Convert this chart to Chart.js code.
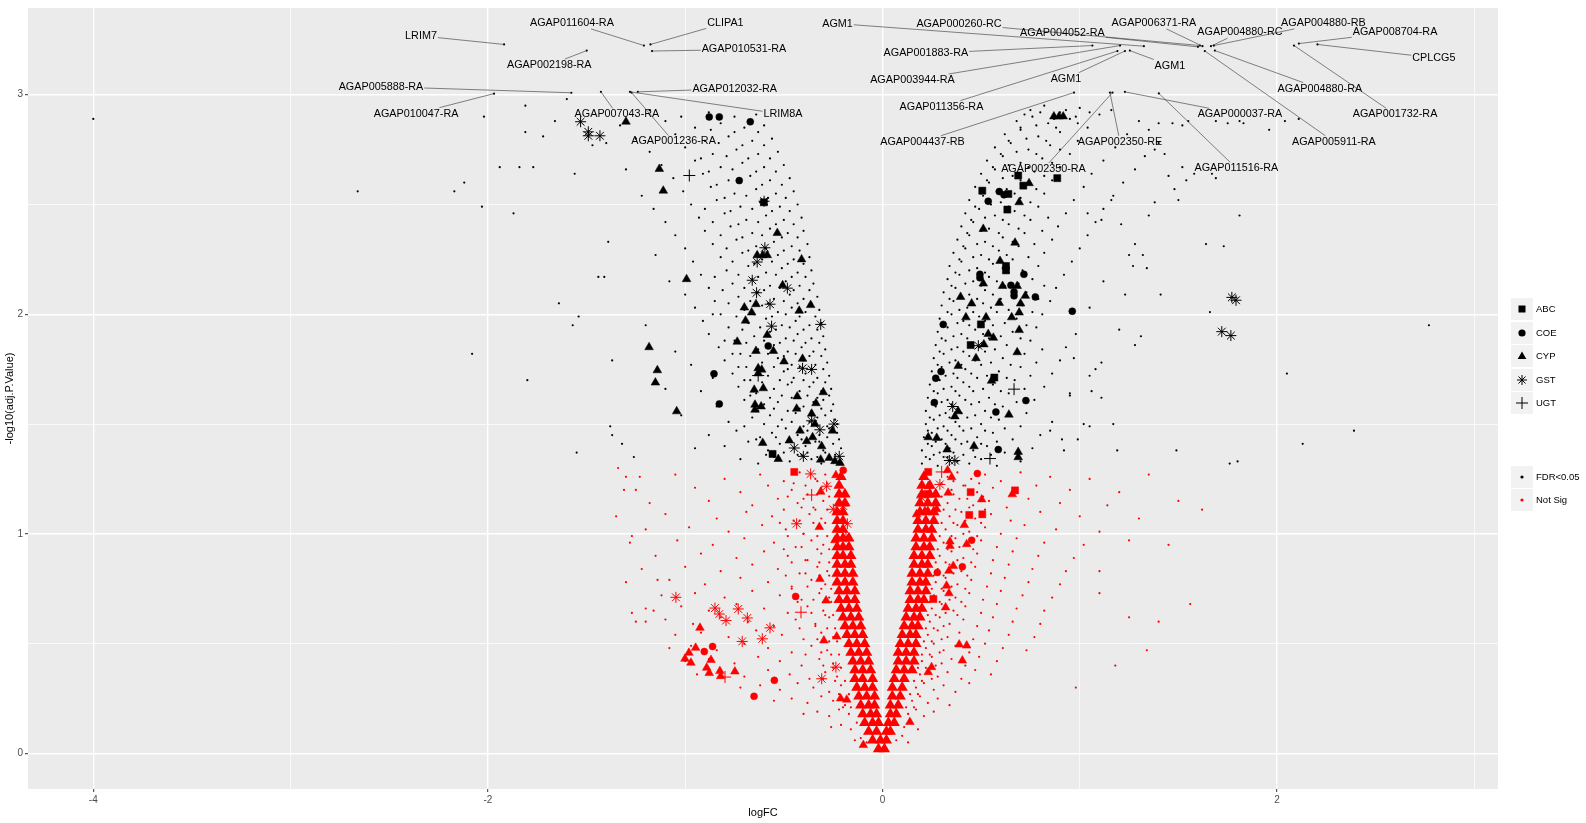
<!DOCTYPE html>
<html>
<head>
<meta charset="utf-8">
<script src="https://cdn.jsdelivr.net/npm/chart.js@4.4.0/dist/chart.umd.min.js"></script>
<style>
html, body { margin: 0; padding: 0; background: #fff; }
#wrap { position: relative; width: 1586px; height: 823px; font-family: "Liberation Sans", Arial, sans-serif; }
#legend { position: absolute; left: 1511px; top: 298px; }
.row { position: absolute; left: 0; height: 22px; }
.key { position: absolute; left: 0; top: 0; width: 22px; height: 22px; background: #F2F2F2; }
.key svg { display: block; }
.lab { position: absolute; left: 25px; top: 0; font-size: 9.5px; line-height: 22px; color: #000; white-space: nowrap; }
</style>
</head>
<body>
<div id="wrap">
  <canvas id="volcano" width="1586" height="823"></canvas>
  <div id="legend">
    <div class="row" style="top:0px"><div class="key"><svg width="22" height="22"><rect x="7.5" y="7.5" width="7" height="7" fill="#000"/></svg></div><div class="lab">ABC</div></div>
    <div class="row" style="top:23.5px"><div class="key"><svg width="22" height="22"><circle cx="11" cy="11" r="3.6" fill="#000"/></svg></div><div class="lab">COE</div></div>
    <div class="row" style="top:47px"><div class="key"><svg width="22" height="22"><polygon points="11,6.6 15.3,14.1 6.7,14.1" fill="#000"/></svg></div><div class="lab">CYP</div></div>
    <div class="row" style="top:70.5px"><div class="key"><svg width="22" height="22"><g stroke="#000" stroke-width="1"><line x1="6" y1="11" x2="16" y2="11"/><line x1="11" y1="6" x2="11" y2="16"/><line x1="7.5" y1="7.5" x2="14.5" y2="14.5"/><line x1="7.5" y1="14.5" x2="14.5" y2="7.5"/></g></svg></div><div class="lab">GST</div></div>
    <div class="row" style="top:94px"><div class="key"><svg width="22" height="22"><g stroke="#000" stroke-width="1"><line x1="5" y1="11" x2="17" y2="11"/><line x1="11" y1="5" x2="11" y2="17"/></g></svg></div><div class="lab">UGT</div></div>
    <div class="row" style="top:168px"><div class="key"><svg width="22" height="22"><circle cx="11" cy="11" r="1.6" fill="#000"/></svg></div><div class="lab">FDR&lt;0.05</div></div>
    <div class="row" style="top:191px"><div class="key"><svg width="22" height="22"><circle cx="11" cy="11" r="1.6" fill="#FF0000"/></svg></div><div class="lab">Not Sig</div></div>
  </div>
</div>
<script>
// genes passing FDR<0.05 (small black dots), [logFC, -log10(adj.P.Value)]
const sigDots = [
  [-4.00,2.89],[-2.66,2.56],[-2.17,2.56],[-2.12,2.60],[-2.03,2.49],[-2.02,2.90],[-1.94,2.67],[-1.87,2.46],
  [-1.84,2.67],[-1.77,2.67],[-1.81,2.95],[-1.66,2.88],[-1.64,2.05],[-1.57,1.95],[-1.54,1.99],[-2.08,1.82],
  [-1.80,1.70],[-1.37,1.79],[-1.38,1.49],[-1.37,1.45],[-1.55,1.37],[-1.26,1.35],[-1.32,1.41],[-1.44,2.17],
  [-1.41,2.17],[-1.39,2.33],[-1.56,2.64],[-1.47,2.77],[-1.72,2.81],[-1.81,2.83],[-1.60,2.98],
  [-0.22,1.33],[-0.27,1.35],[-0.31,1.32],[-0.36,1.34],[-0.41,1.36],[-0.47,1.33],[-0.55,1.35],[-0.63,1.32],[-0.72,1.34],
  [-0.21,1.39],[-0.25,1.41],[-0.30,1.38],[-0.34,1.42],[-0.39,1.40],[-0.45,1.39],[-0.52,1.41],[-0.58,1.38],[-0.68,1.42],[-0.80,1.40],[-0.95,1.39],
  [-0.23,1.46],[-0.27,1.48],[-0.32,1.45],[-0.38,1.47],[-0.43,1.45],[-0.49,1.48],[-0.56,1.46],[-0.62,1.44],[-0.74,1.47],[-0.88,1.45],
  [-0.24,1.52],[-0.29,1.54],[-0.33,1.53],[-0.37,1.51],[-0.44,1.55],[-0.51,1.52],[-0.57,1.54],[-0.66,1.53],[-0.78,1.51],[-1.02,1.54],
  [-0.25,1.59],[-0.30,1.61],[-0.35,1.60],[-0.40,1.58],[-0.46,1.62],[-0.53,1.60],[-0.60,1.59],[-0.70,1.61],[-0.84,1.58],
  [-0.26,1.66],[-0.31,1.65],[-0.37,1.67],[-0.42,1.65],[-0.48,1.68],[-0.55,1.66],[-0.64,1.64],[-0.73,1.67],[-0.92,1.65],[-1.10,1.66],
  [-0.27,1.72],[-0.33,1.71],[-0.39,1.73],[-0.45,1.71],[-0.50,1.74],[-0.58,1.72],[-0.67,1.70],[-0.76,1.73],[-0.86,1.71],
  [-0.28,1.78],[-0.34,1.77],[-0.40,1.79],[-0.46,1.77],[-0.53,1.80],[-0.61,1.78],[-0.69,1.76],[-0.80,1.79],[-0.97,1.77],
  [-0.29,1.84],[-0.35,1.83],[-0.41,1.85],[-0.48,1.83],[-0.55,1.86],[-0.63,1.84],[-0.72,1.82],[-0.83,1.85],[-1.05,1.83],
  [-0.30,1.90],[-0.36,1.89],[-0.43,1.91],[-0.49,1.89],[-0.57,1.92],[-0.65,1.90],[-0.75,1.88],[-0.88,1.91],
  [-0.31,1.96],[-0.37,1.95],[-0.44,1.97],[-0.51,1.95],[-0.59,1.98],[-0.68,1.96],[-0.78,1.94],[-0.91,1.97],[-1.20,1.95],
  [-0.32,2.02],[-0.39,2.01],[-0.46,2.03],[-0.53,2.01],[-0.61,2.04],[-0.70,2.02],[-0.82,2.00],[-0.95,2.03],
  [-0.33,2.08],[-0.40,2.07],[-0.47,2.09],[-0.55,2.07],[-0.63,2.10],[-0.73,2.08],[-0.85,2.06],[-1.00,2.09],
  [-0.35,2.14],[-0.42,2.13],[-0.49,2.15],[-0.57,2.13],[-0.66,2.16],[-0.76,2.14],[-0.88,2.12],[-1.08,2.15],
  [-0.36,2.20],[-0.43,2.19],[-0.51,2.21],[-0.59,2.19],[-0.68,2.22],[-0.79,2.20],[-0.92,2.18],
  [-0.37,2.26],[-0.45,2.25],[-0.53,2.27],[-0.61,2.25],[-0.71,2.28],[-0.82,2.26],[-0.96,2.24],[-1.15,2.27],
  [-0.38,2.32],[-0.46,2.31],[-0.55,2.33],[-0.64,2.31],[-0.74,2.34],[-0.86,2.32],[-1.00,2.30],
  [-0.40,2.38],[-0.48,2.37],[-0.57,2.39],[-0.66,2.37],[-0.77,2.40],[-0.90,2.38],[-1.05,2.36],
  [-0.41,2.44],[-0.50,2.43],[-0.59,2.45],[-0.69,2.43],[-0.80,2.46],[-0.93,2.44],[-1.10,2.42],
  [-0.43,2.50],[-0.52,2.49],[-0.62,2.51],[-0.72,2.49],[-0.84,2.52],[-0.97,2.50],[-1.16,2.48],
  [-0.45,2.56],[-0.54,2.55],[-0.64,2.57],[-0.75,2.55],[-0.87,2.58],[-1.01,2.56],[-1.22,2.54],
  [-0.47,2.62],[-0.57,2.61],[-0.67,2.63],[-0.78,2.61],[-0.91,2.64],[-1.06,2.62],
  [-0.50,2.68],[-0.60,2.67],[-0.71,2.69],[-0.82,2.67],[-0.95,2.70],[-1.12,2.68],[-1.30,2.66],
  [-0.53,2.74],[-0.63,2.73],[-0.74,2.75],[-0.86,2.73],[-1.00,2.76],[-1.18,2.74],
  [-0.56,2.80],[-0.66,2.79],[-0.78,2.81],[-0.90,2.79],[-1.05,2.82],[-1.25,2.80],[-1.40,2.78],
  [-0.60,2.86],[-0.70,2.85],[-0.82,2.87],[-0.95,2.85],[-1.10,2.88],[-1.33,2.86],
  [-0.64,2.91],[-0.75,2.90],[-0.88,2.92],[-1.02,2.90],[-1.18,2.93],
  [-0.24,1.36],[-0.29,1.37],[-0.33,1.35],[-0.38,1.37],[-0.43,1.36],[-0.50,1.37],[-0.59,1.36],
  [-0.22,1.43],[-0.28,1.44],[-0.32,1.42],[-0.36,1.44],[-0.41,1.43],[-0.47,1.42],[-0.54,1.44],[-0.64,1.43],
  [-0.23,1.50],[-0.28,1.49],[-0.35,1.50],[-0.40,1.49],[-0.46,1.51],[-0.53,1.49],[-0.60,1.50],[-0.70,1.49],
  [-0.26,1.56],[-0.31,1.57],[-0.36,1.56],[-0.42,1.57],[-0.48,1.56],[-0.55,1.57],[-0.63,1.56],
  [-0.27,1.63],[-0.33,1.62],[-0.38,1.63],[-0.44,1.62],[-0.51,1.63],[-0.57,1.62],[-0.67,1.63],
  [-0.29,1.69],[-0.35,1.69],[-0.40,1.70],[-0.46,1.69],[-0.52,1.70],[-0.61,1.69],[-0.70,1.70],
  [-0.30,1.75],[-0.36,1.75],[-0.42,1.76],[-0.48,1.75],[-0.55,1.76],[-0.64,1.75],[-0.73,1.76],
  [-0.31,1.81],[-0.37,1.81],[-0.44,1.82],[-0.50,1.81],[-0.58,1.82],[-0.67,1.81],[-0.76,1.82],
  [-0.32,1.87],[-0.39,1.87],[-0.45,1.88],[-0.52,1.87],[-0.60,1.88],[-0.69,1.87],[-0.80,1.88],
  [-0.33,1.93],[-0.40,1.93],[-0.47,1.94],[-0.54,1.93],[-0.62,1.94],[-0.71,1.93],
  [-0.34,1.99],[-0.42,1.99],[-0.49,2.00],[-0.56,1.99],[-0.65,2.00],[-0.74,1.99],[-0.86,2.00],
  [-0.36,2.05],[-0.43,2.05],[-0.50,2.06],[-0.58,2.05],[-0.67,2.06],[-0.78,2.05],
  [-0.37,2.11],[-0.45,2.11],[-0.52,2.12],[-0.60,2.11],[-0.70,2.12],[-0.81,2.11],
  [-0.39,2.17],[-0.46,2.17],[-0.54,2.18],[-0.63,2.17],[-0.73,2.18],[-0.85,2.17],
  [-0.40,2.23],[-0.48,2.23],[-0.56,2.24],[-0.65,2.23],[-0.76,2.24],
  [-0.42,2.29],[-0.50,2.29],[-0.59,2.30],[-0.68,2.29],[-0.79,2.30],
  [-0.43,2.35],[-0.51,2.35],[-0.61,2.36],[-0.71,2.35],[-0.82,2.36],
  [-0.45,2.41],[-0.54,2.41],[-0.63,2.42],[-0.73,2.41],[-0.86,2.42],
  [-0.47,2.47],[-0.56,2.47],[-0.66,2.48],[-0.77,2.47],[-0.90,2.48],
  [-0.49,2.53],[-0.58,2.53],[-0.69,2.54],[-0.80,2.53],
  [-0.51,2.59],[-0.61,2.59],[-0.72,2.60],[-0.84,2.59],
  [-0.54,2.65],[-0.64,2.65],[-0.76,2.66],[-0.88,2.65],
  [-0.57,2.71],[-0.68,2.71],[-0.79,2.72],[-0.92,2.71],
  [-0.60,2.77],[-0.71,2.77],[-0.83,2.78],
  [-0.63,2.83],[-0.75,2.83],[-0.87,2.84],
  [0.20,1.32],[0.24,1.34],[0.28,1.31],[0.33,1.35],[0.38,1.33],[0.44,1.32],[0.50,1.34],[0.58,1.31],[0.70,1.33],
  [0.20,1.38],[0.25,1.40],[0.29,1.37],[0.34,1.39],[0.40,1.41],[0.46,1.38],[0.53,1.40],[0.62,1.37],[0.76,1.39],[0.92,1.38],
  [0.21,1.44],[0.25,1.46],[0.30,1.43],[0.35,1.45],[0.41,1.47],[0.48,1.44],[0.56,1.46],[0.66,1.43],[0.80,1.45],
  [0.22,1.50],[0.26,1.52],[0.31,1.49],[0.37,1.51],[0.43,1.53],[0.50,1.50],[0.59,1.52],[0.70,1.49],[0.86,1.51],[1.02,1.50],
  [0.22,1.56],[0.27,1.58],[0.32,1.55],[0.38,1.57],[0.45,1.59],[0.52,1.56],[0.61,1.58],[0.73,1.55],
  [0.23,1.62],[0.28,1.64],[0.33,1.61],[0.39,1.63],[0.46,1.65],[0.54,1.62],[0.64,1.64],[0.77,1.61],[0.95,1.63],
  [0.24,1.68],[0.29,1.70],[0.35,1.67],[0.41,1.69],[0.48,1.71],[0.56,1.68],[0.67,1.70],[0.82,1.67],
  [0.25,1.74],[0.30,1.76],[0.36,1.73],[0.42,1.75],[0.50,1.77],[0.59,1.74],[0.70,1.76],[0.86,1.73],[1.08,1.75],
  [0.26,1.80],[0.31,1.82],[0.37,1.79],[0.44,1.81],[0.52,1.83],[0.61,1.80],[0.72,1.82],[0.90,1.79],
  [0.27,1.86],[0.32,1.88],[0.38,1.85],[0.45,1.87],[0.54,1.89],[0.63,1.86],[0.75,1.88],[0.93,1.85],
  [0.28,1.92],[0.33,1.94],[0.40,1.91],[0.47,1.93],[0.56,1.95],[0.66,1.92],[0.78,1.94],[0.98,1.91],[1.20,1.93],
  [0.29,1.98],[0.35,2.00],[0.41,1.97],[0.49,1.99],[0.58,2.01],[0.68,1.98],[0.81,2.00],
  [0.30,2.04],[0.36,2.06],[0.43,2.03],[0.51,2.05],[0.60,2.07],[0.71,2.04],[0.85,2.06],[1.05,2.03],
  [0.31,2.10],[0.37,2.12],[0.44,2.09],[0.52,2.11],[0.62,2.13],[0.73,2.10],[0.88,2.12],
  [0.33,2.16],[0.39,2.18],[0.46,2.15],[0.54,2.17],[0.64,2.19],[0.76,2.16],[0.92,2.18],[1.12,2.15],
  [0.34,2.22],[0.40,2.24],[0.48,2.21],[0.56,2.23],[0.66,2.25],[0.79,2.22],[0.96,2.24],
  [0.36,2.28],[0.42,2.30],[0.50,2.27],[0.59,2.29],[0.69,2.31],[0.82,2.28],[1.00,2.30],[1.25,2.27],
  [0.38,2.34],[0.44,2.36],[0.52,2.33],[0.61,2.35],[0.72,2.37],[0.86,2.34],[1.04,2.36],
  [0.40,2.40],[0.46,2.42],[0.54,2.39],[0.64,2.41],[0.75,2.43],[0.89,2.40],[1.08,2.42],
  [0.42,2.46],[0.49,2.48],[0.57,2.45],[0.67,2.47],[0.79,2.49],[0.93,2.46],[1.12,2.48],[1.35,2.45],
  [0.44,2.52],[0.51,2.54],[0.60,2.51],[0.70,2.53],[0.82,2.55],[0.97,2.52],[1.17,2.54],
  [0.47,2.58],[0.54,2.60],[0.63,2.57],[0.73,2.59],[0.86,2.61],[1.02,2.58],[1.22,2.60],
  [0.50,2.64],[0.57,2.66],[0.66,2.63],[0.77,2.65],[0.90,2.67],[1.06,2.64],[1.28,2.66],[1.45,2.63],
  [0.53,2.70],[0.61,2.72],[0.70,2.69],[0.81,2.71],[0.95,2.73],[1.12,2.70],[1.33,2.72],
  [0.57,2.76],[0.65,2.78],[0.74,2.75],[0.85,2.77],[0.99,2.79],[1.18,2.76],[1.40,2.78],
  [0.62,2.82],[0.70,2.84],[0.79,2.81],[0.90,2.83],[1.04,2.85],[1.24,2.82],
  [0.68,2.88],[0.76,2.90],[0.84,2.87],[0.95,2.89],[1.10,2.91],[1.30,2.88],[1.52,2.86],
  [0.75,2.93],[0.82,2.95],[0.90,2.92],[1.00,2.94],[1.16,2.93],
  [0.22,1.35],[0.26,1.36],[0.31,1.35],[0.36,1.37],[0.41,1.36],[0.47,1.35],[0.55,1.36],
  [0.23,1.41],[0.27,1.42],[0.32,1.41],[0.37,1.43],[0.43,1.42],[0.50,1.41],[0.58,1.42],
  [0.23,1.47],[0.28,1.48],[0.33,1.47],[0.39,1.49],[0.45,1.48],[0.52,1.47],[0.62,1.48],
  [0.24,1.53],[0.29,1.54],[0.34,1.53],[0.40,1.55],[0.47,1.54],[0.55,1.53],[0.65,1.54],
  [0.25,1.59],[0.30,1.60],[0.35,1.59],[0.42,1.61],[0.49,1.60],[0.57,1.59],[0.68,1.60],
  [0.26,1.65],[0.31,1.66],[0.37,1.65],[0.44,1.67],[0.51,1.66],[0.60,1.65],[0.72,1.66],
  [0.27,1.71],[0.32,1.72],[0.38,1.71],[0.45,1.73],[0.53,1.72],[0.63,1.71],[0.75,1.72],
  [0.28,1.77],[0.34,1.78],[0.40,1.77],[0.47,1.79],[0.55,1.78],[0.65,1.77],[0.78,1.78],
  [0.29,1.83],[0.35,1.84],[0.41,1.83],[0.49,1.85],[0.57,1.84],[0.68,1.83],[0.81,1.84],
  [0.30,1.89],[0.36,1.90],[0.43,1.89],[0.51,1.91],[0.60,1.90],[0.70,1.89],
  [0.31,1.95],[0.38,1.96],[0.44,1.95],[0.52,1.97],[0.62,1.96],[0.73,1.95],
  [0.33,2.01],[0.39,2.02],[0.46,2.01],[0.55,2.03],[0.64,2.02],[0.76,2.01],
  [0.34,2.07],[0.40,2.08],[0.48,2.07],[0.56,2.09],[0.66,2.08],[0.79,2.07],
  [0.35,2.13],[0.42,2.14],[0.50,2.13],[0.58,2.15],[0.69,2.14],[0.82,2.13],
  [0.37,2.19],[0.44,2.20],[0.52,2.19],[0.61,2.21],[0.71,2.20],
  [0.39,2.25],[0.46,2.26],[0.54,2.25],[0.63,2.27],[0.74,2.26],
  [0.41,2.31],[0.48,2.32],[0.56,2.31],[0.66,2.33],[0.77,2.32],
  [0.43,2.37],[0.50,2.38],[0.59,2.37],[0.69,2.39],[0.81,2.38],
  [0.45,2.43],[0.52,2.44],[0.61,2.43],[0.72,2.45],[0.84,2.44],
  [0.47,2.49],[0.55,2.50],[0.64,2.49],[0.75,2.51],
  [0.50,2.55],[0.58,2.56],[0.67,2.55],[0.78,2.57],
  [0.53,2.61],[0.61,2.62],[0.70,2.61],[0.82,2.63],
  [0.56,2.67],[0.64,2.68],[0.74,2.67],[0.86,2.69],
  [0.60,2.73],[0.68,2.74],[0.78,2.73],[0.90,2.75],
  [0.64,2.79],[0.73,2.80],[0.83,2.79],
  [0.70,2.85],[0.78,2.86],[0.88,2.85],[0.99,2.87],
  [0.72,2.91],[0.80,2.92],[0.87,2.89],[0.93,2.93],[0.98,2.90],[1.05,2.92],
  [2.77,1.95],[2.13,1.41],[2.39,1.47],[2.05,1.73],[1.80,1.33],[1.76,1.32],[1.66,2.01],[1.64,2.32],
  [1.73,2.31],[1.81,2.45],[1.83,2.87],[1.96,2.84],[2.04,2.88],[2.11,2.89],[1.69,2.62],[1.52,2.67],
  [1.58,2.64],[1.48,2.57],[1.50,2.52],[1.38,2.51],[1.27,2.22],[1.32,2.27],[1.34,2.21],[1.21,2.41],
  [1.16,2.52],[1.04,2.46],[1.11,2.43],[1.41,2.09],[1.28,2.32],[1.23,2.09],[1.11,1.78],[1.11,1.62],
  [1.17,1.50],[1.05,1.49],[1.31,1.90],[1.28,1.86],[1.49,1.38],[1.19,1.38],[1.05,1.72],[0.97,1.80],
  [0.95,1.64],[1.06,1.65],[0.85,1.47],[0.91,1.43],[0.99,1.43],[1.35,2.84],[1.40,2.87],[1.47,2.87],
  [1.55,2.88],[1.69,2.88],[1.75,2.87],[1.81,2.88],[1.38,2.75],[1.43,2.73],[1.54,2.61],[1.67,2.64]
];

// genes not passing FDR (small red dots)
const notSigDots = [
  [-1.31,1.20],[-1.27,0.99],[-1.27,0.64],[-1.20,0.60],[-1.14,0.79],[-1.16,0.65],[-1.34,1.30],[-1.23,1.26],
  [-1.30,1.26],[-1.05,1.27],[-0.80,1.25],[-0.62,1.27],[-0.50,1.24],[-0.42,1.28],[-0.34,1.25],[-0.29,1.27],
  [-1.25,1.20],[-0.95,1.21],[-0.72,1.19],[-0.58,1.22],[-0.46,1.20],[-0.38,1.18],[-0.31,1.21],
  [-1.18,1.14],[-0.88,1.15],[-0.66,1.13],[-0.53,1.16],[-0.43,1.14],[-0.35,1.12],[-0.30,1.15],
  [-1.35,1.08],[-1.10,1.09],[-0.84,1.07],[-0.69,1.10],[-0.56,1.08],[-0.45,1.06],[-0.37,1.09],[-0.31,1.07],
  [-1.20,1.02],[-0.98,1.03],[-0.78,1.01],[-0.61,1.04],[-0.49,1.02],[-0.40,1.00],[-0.32,1.03],
  [-1.28,0.96],[-1.04,0.97],[-0.86,0.95],[-0.70,0.98],[-0.55,0.96],[-0.44,0.94],[-0.36,0.97],[-0.30,0.95],
  [-1.15,0.90],[-0.92,0.91],[-0.74,0.89],[-0.60,0.92],[-0.48,0.90],[-0.39,0.88],[-0.31,0.91],
  [-1.22,0.84],[-1.00,0.85],[-0.82,0.83],[-0.66,0.86],[-0.53,0.84],[-0.42,0.82],[-0.33,0.85],[-0.28,0.83],
  [-1.30,0.78],[-1.08,0.79],[-0.90,0.77],[-0.72,0.80],[-0.58,0.78],[-0.46,0.76],[-0.36,0.79],[-0.29,0.77],
  [-1.12,0.72],[-0.95,0.73],[-0.80,0.71],[-0.66,0.74],[-0.52,0.72],[-0.41,0.70],[-0.32,0.73],[-0.27,0.71],
  [-1.20,0.66],[-1.02,0.67],[-0.88,0.65],[-0.74,0.68],[-0.60,0.66],[-0.48,0.64],[-0.38,0.67],[-0.30,0.65],
  [-1.25,0.60],[-1.10,0.61],[-0.96,0.59],[-0.82,0.62],[-0.68,0.60],[-0.55,0.58],[-0.44,0.61],[-0.34,0.59],[-0.27,0.62],
  [-1.05,0.54],[-0.92,0.55],[-0.78,0.53],[-0.64,0.56],[-0.51,0.54],[-0.40,0.52],[-0.31,0.55],[-0.25,0.53],
  [-1.08,0.48],[-0.97,0.49],[-0.84,0.47],[-0.70,0.50],[-0.58,0.48],[-0.46,0.46],[-0.36,0.49],[-0.28,0.47],
  [-1.00,0.42],[-0.88,0.43],[-0.75,0.41],[-0.63,0.44],[-0.52,0.42],[-0.41,0.40],[-0.32,0.43],[-0.25,0.41],
  [-0.94,0.36],[-0.82,0.37],[-0.70,0.35],[-0.58,0.38],[-0.47,0.36],[-0.37,0.34],[-0.29,0.37],[-0.23,0.35],
  [-0.72,0.30],[-0.62,0.31],[-0.52,0.29],[-0.43,0.32],[-0.35,0.30],[-0.27,0.28],[-0.21,0.31],
  [-0.55,0.24],[-0.46,0.25],[-0.38,0.23],[-0.31,0.26],[-0.25,0.24],[-0.19,0.22],
  [-0.40,0.18],[-0.33,0.19],[-0.27,0.17],[-0.22,0.20],[-0.17,0.18],
  [-0.26,0.12],[-0.21,0.13],[-0.16,0.11],[-0.13,0.14],[-0.14,0.06],[-0.11,0.07],[-0.08,0.05],
  [-0.28,1.23],[-0.33,1.24],[-0.39,1.22],[-0.45,1.23],[-0.27,1.17],[-0.33,1.18],[-0.40,1.16],[-0.48,1.17],
  [-0.28,1.11],[-0.34,1.11],[-0.41,1.12],[-0.50,1.11],[-0.29,1.05],[-0.35,1.05],[-0.42,1.06],[-0.52,1.05],
  [-0.28,0.99],[-0.33,0.99],[-0.40,1.00],[-0.48,0.99],[-0.27,0.93],[-0.33,0.93],[-0.41,0.94],[-0.50,0.93],
  [-0.27,0.87],[-0.32,0.87],[-0.38,0.88],[-0.46,0.87],[-0.27,0.81],[-0.32,0.81],[-0.39,0.82],[-0.49,0.81],
  [-0.26,0.75],[-0.31,0.75],[-0.38,0.76],[-0.46,0.75],[-0.26,0.69],[-0.30,0.69],[-0.35,0.70],[-0.43,0.69],
  [-0.25,0.63],[-0.29,0.63],[-0.36,0.64],[-0.24,0.57],[-0.28,0.57],[-0.34,0.58],[-0.42,0.57],
  [-0.23,0.51],[-0.27,0.51],[-0.33,0.52],[-0.22,0.45],[-0.26,0.45],[-0.31,0.46],[-0.39,0.45],
  [-0.21,0.39],[-0.25,0.39],[-0.30,0.40],[-0.19,0.33],[-0.24,0.33],[-0.30,0.34],[-0.17,0.27],[-0.22,0.27],
  [-0.16,0.21],[-0.20,0.21],
  [0.33,1.26],[0.38,1.28],[0.45,1.25],[0.52,1.27],[0.60,1.24],[0.70,1.28],[0.85,1.26],[1.05,1.25],[1.35,1.27],
  [0.35,1.20],[0.41,1.22],[0.48,1.19],[0.56,1.21],[0.66,1.18],[0.78,1.22],[0.95,1.20],[1.20,1.19],
  [0.33,1.14],[0.39,1.16],[0.46,1.13],[0.54,1.15],[0.63,1.12],[0.74,1.16],[0.90,1.14],[1.14,1.13],[1.50,1.15],
  [0.34,1.08],[0.40,1.10],[0.47,1.07],[0.55,1.09],[0.65,1.06],[0.80,1.10],[1.00,1.08],[1.30,1.07],[1.62,1.11],
  [0.32,1.02],[0.38,1.04],[0.44,1.01],[0.52,1.03],[0.60,1.00],[0.72,1.04],[0.88,1.02],[1.10,1.01],
  [0.31,0.96],[0.37,0.98],[0.43,0.95],[0.50,0.97],[0.58,0.94],[0.68,0.98],[0.82,0.96],[1.02,0.95],[1.25,0.97],[1.45,0.95],
  [0.29,0.90],[0.35,0.92],[0.41,0.89],[0.48,0.91],[0.56,0.88],[0.66,0.92],[0.79,0.90],[0.97,0.89],
  [0.28,0.84],[0.34,0.86],[0.40,0.83],[0.47,0.85],[0.55,0.82],[0.64,0.86],[0.76,0.84],[0.93,0.83],[1.10,0.83],
  [0.27,0.78],[0.32,0.80],[0.38,0.77],[0.45,0.79],[0.53,0.76],[0.62,0.80],[0.74,0.78],[0.90,0.77],
  [0.26,0.72],[0.31,0.74],[0.37,0.71],[0.44,0.73],[0.51,0.70],[0.60,0.74],[0.71,0.72],[0.86,0.71],[1.10,0.73],
  [0.25,0.66],[0.30,0.68],[0.36,0.65],[0.42,0.67],[0.50,0.64],[0.58,0.68],[0.68,0.66],[0.82,0.65],[1.56,0.68],
  [0.24,0.60],[0.29,0.62],[0.34,0.59],[0.41,0.61],[0.48,0.58],[0.56,0.62],[0.66,0.60],[0.80,0.59],[1.40,0.60],[1.25,0.62],
  [0.23,0.54],[0.28,0.56],[0.33,0.53],[0.39,0.55],[0.46,0.52],[0.54,0.56],[0.64,0.54],[0.77,0.53],
  [0.22,0.48],[0.26,0.50],[0.31,0.47],[0.37,0.49],[0.44,0.46],[0.52,0.50],[0.61,0.48],[0.73,0.47],[1.34,0.47],
  [0.20,0.42],[0.25,0.44],[0.30,0.41],[0.35,0.43],[0.42,0.40],[0.49,0.44],[0.58,0.42],[1.18,0.40],
  [0.19,0.36],[0.23,0.38],[0.28,0.35],[0.33,0.37],[0.40,0.34],[0.47,0.38],[0.55,0.36],
  [0.17,0.30],[0.21,0.32],[0.26,0.29],[0.31,0.31],[0.37,0.28],[0.44,0.32],[0.98,0.30],
  [0.15,0.24],[0.19,0.26],[0.23,0.23],[0.28,0.25],[0.34,0.22],
  [0.13,0.18],[0.17,0.20],[0.21,0.17],[0.26,0.19],[0.11,0.12],[0.14,0.14],[0.18,0.11],
  [0.07,0.06],[0.10,0.08],[0.13,0.05],
  [0.30,1.23],[0.36,1.24],[0.42,1.22],[0.49,1.23],[0.30,1.17],[0.36,1.18],[0.43,1.16],[0.51,1.17],
  [0.31,1.11],[0.37,1.11],[0.44,1.12],[0.52,1.11],[0.30,1.05],[0.36,1.05],[0.42,1.06],[0.50,1.05],
  [0.29,0.99],[0.35,0.99],[0.41,1.00],[0.48,0.99],[0.28,0.93],[0.33,0.93],[0.39,0.94],[0.46,0.93],
  [0.27,0.87],[0.32,0.87],[0.38,0.88],[0.45,0.87],[0.26,0.81],[0.31,0.81],[0.36,0.82],[0.43,0.81],
  [0.25,0.75],[0.30,0.75],[0.35,0.76],[0.42,0.75],[0.24,0.69],[0.29,0.69],[0.34,0.70],[0.40,0.69],
  [0.23,0.63],[0.27,0.63],[0.32,0.64],[0.38,0.63],[0.22,0.57],[0.26,0.57],[0.31,0.58],
  [0.21,0.51],[0.25,0.51],[0.30,0.52],[0.20,0.45],[0.24,0.45],[0.29,0.46],
  [0.18,0.39],[0.22,0.39],[0.27,0.40],[0.16,0.33],[0.20,0.33],[0.25,0.34],
  [0.14,0.27],[0.18,0.27],[0.12,0.21],[0.16,0.21]
];

// the packed mass of not-significant genes close to logFC 0
const notSigCore = [
  [-0.02,0.02],[0.01,0.02],
  [-0.05,0.06],[-0.01,0.06],[0.02,0.06],
  [-0.07,0.10],[-0.03,0.10],[0.02,0.10],[0.04,0.10],
  [-0.09,0.14],[-0.05,0.14],[-0.02,0.14],[0.03,0.14],[0.06,0.14],
  [-0.10,0.18],[-0.06,0.18],[-0.03,0.18],[0.04,0.18],[0.07,0.18],
  [-0.11,0.22],[-0.07,0.22],[-0.04,0.22],[0.04,0.22],[0.08,0.22],
  [-0.12,0.26],[-0.08,0.26],[-0.04,0.26],[0.05,0.26],[0.09,0.26],
  [-0.13,0.30],[-0.09,0.30],[-0.05,0.30],[0.05,0.30],[0.10,0.30],
  [-0.14,0.34],[-0.10,0.34],[-0.05,0.34],[0.06,0.34],[0.11,0.34],
  [-0.14,0.38],[-0.10,0.38],[-0.06,0.38],[0.07,0.38],[0.11,0.38],[0.15,0.38],
  [-0.15,0.42],[-0.11,0.42],[-0.07,0.42],[0.08,0.42],[0.12,0.42],[0.16,0.42],
  [-0.16,0.46],[-0.12,0.46],[-0.08,0.46],[0.08,0.46],[0.12,0.46],[0.16,0.46],
  [-0.17,0.50],[-0.13,0.50],[-0.09,0.50],[0.09,0.50],[0.13,0.50],[0.17,0.50],
  [-0.18,0.54],[-0.14,0.54],[-0.10,0.54],[0.10,0.54],[0.14,0.54],[0.17,0.54],
  [-0.19,0.58],[-0.15,0.58],[-0.11,0.58],[0.11,0.58],[0.15,0.58],[0.18,0.58],
  [-0.20,0.62],[-0.16,0.62],[-0.12,0.62],[0.12,0.62],[0.16,0.62],[0.19,0.62],
  [-0.21,0.66],[-0.17,0.66],[-0.13,0.66],[0.13,0.66],[0.17,0.66],[0.20,0.66],
  [-0.22,0.70],[-0.18,0.70],[-0.14,0.70],[0.14,0.70],[0.18,0.70],[0.21,0.70],
  [-0.22,0.74],[-0.18,0.74],[-0.14,0.74],[0.14,0.74],[0.18,0.74],[0.22,0.74],
  [-0.23,0.78],[-0.19,0.78],[-0.15,0.78],[0.15,0.78],[0.19,0.78],[0.22,0.78],
  [-0.23,0.82],[-0.19,0.82],[-0.15,0.82],[0.15,0.82],[0.19,0.82],[0.23,0.82],
  [-0.23,0.86],[-0.19,0.86],[-0.16,0.86],[0.16,0.86],[0.20,0.86],[0.23,0.86],
  [-0.23,0.90],[-0.20,0.90],[-0.16,0.90],[0.16,0.90],[0.20,0.90],[0.24,0.90],
  [-0.23,0.94],[-0.20,0.94],[-0.17,0.94],[0.17,0.94],[0.21,0.94],[0.24,0.94],
  [-0.23,0.98],[-0.20,0.98],[-0.17,0.98],[0.17,0.98],[0.21,0.98],[0.25,0.98],
  [-0.23,1.02],[-0.20,1.02],[0.18,1.02],[0.22,1.02],[0.25,1.02],
  [-0.23,1.06],[-0.20,1.06],[0.18,1.06],[0.22,1.06],[0.26,1.06],
  [-0.23,1.10],[-0.20,1.10],[0.19,1.10],[0.23,1.10],[0.26,1.10],
  [-0.22,1.14],[-0.19,1.14],[0.19,1.14],[0.23,1.14],[0.27,1.14],
  [-0.22,1.18],[-0.19,1.18],[0.20,1.18],[0.24,1.18],[0.27,1.18],
  [-0.22,1.22],[0.20,1.22],[0.24,1.22],
  [-0.21,1.26],[0.21,1.26]
];

// gene families
const abcGenes = [
  [-0.601,2.510],[-0.557,1.364],[0.688,2.632],[0.886,2.620],[0.714,2.586],[0.506,2.563],[0.638,2.548],
  [0.633,2.477],[0.626,2.220],[0.626,2.200],[0.499,1.954],[0.447,1.860],[0.567,1.712],
  [-0.447,1.282],[0.232,1.282],[0.447,1.190],[0.672,1.198],[0.440,1.086],[0.506,1.089],[0.229,1.182],[0.258,0.703]
];
const coeGenes = [
  [-0.878,2.899],[-0.827,2.899],[-0.670,2.877],[-0.726,2.609],[-0.579,1.856],[-0.854,1.729],[-0.827,1.592],
  [0.592,2.559],[0.616,2.544],[0.536,2.515],[0.717,2.182],[0.494,2.182],[0.494,2.166],[0.651,2.132],
  [0.667,2.102],[0.667,2.084],[0.775,2.079],[0.962,2.014],[0.308,1.954],[0.297,1.739],[0.270,1.709],
  [0.727,1.607],[0.263,1.598],[0.575,1.555],[0.587,1.384],
  [-0.199,1.290],[-0.440,0.715],[-0.861,0.487],[-0.903,0.464],[-0.548,0.333],[-0.651,0.260],
  [0.481,1.275],[0.452,0.971],[0.405,0.850],[0.278,0.824]
];
const cypGenes = [
  [-1.300,2.877],[-1.131,2.662],[-1.111,2.563],[-0.533,2.370],[-0.635,2.269],[-0.607,2.269],[-0.584,2.269],
  [-0.410,2.250],[-0.993,2.160],[-0.506,2.132],[-0.641,2.046],[-0.700,2.031],[-0.663,2.008],[-0.364,2.042],
  [-0.422,2.016],[-0.694,1.971],[-0.584,1.906],[-0.736,1.875],[-0.553,1.833],[-0.641,1.833],[-1.183,1.850],
  [-0.405,1.797],[-0.499,1.785],[-0.630,1.754],[-0.612,1.748],[-0.630,1.731],[-1.141,1.745],[-1.151,1.689],
  [-0.650,1.656],[-0.604,1.663],[-0.300,1.645],[-0.432,1.626],[-0.646,1.588],[-0.615,1.580],[-0.646,1.565],
  [-0.337,1.595],[-0.435,1.570],[-0.359,1.547],[-1.043,1.558],[-0.342,1.500],[-0.418,1.470],[-0.253,1.470],
  [-0.354,1.440],[-0.384,1.422],[-0.472,1.425],[-0.607,1.414],[-0.308,1.399],[-0.528,1.341],[-0.313,1.338],
  [-0.270,1.346],[-0.241,1.331],[-0.215,1.323],
  [0.869,2.901],[0.895,2.901],[0.916,2.901],[0.743,2.597],[0.693,2.510],[0.511,2.389],[0.672,2.326],
  [0.596,2.243],[0.511,2.140],[0.609,2.129],[0.683,2.129],[0.724,2.084],[0.700,2.049],[0.396,2.079],
  [0.452,2.049],[0.592,2.052],[0.693,2.008],[0.655,1.986],[0.525,1.986],[0.423,1.986],[0.693,1.928],
  [0.536,1.910],[0.562,1.893],[0.514,1.863],[0.683,1.827],[0.474,1.800],[0.384,1.765],[0.553,1.697],
  [0.384,1.558],[0.367,1.535],[0.641,1.543],[0.232,1.440],[0.275,1.437],[0.464,1.399],[0.328,1.384],
  [0.688,1.373],[0.688,1.349],
  [-0.236,1.267],[-0.313,1.192],[-0.219,1.182],[-0.320,1.031],[-0.241,0.971],[-0.317,0.794],[-0.286,0.696],
  [-0.925,0.572],[-0.947,0.481],[-0.981,0.458],[-1.001,0.431],[-0.971,0.413],[-0.869,0.426],[-0.891,0.390],
  [-0.878,0.366],[-0.824,0.375],[-0.820,0.352],[-0.748,0.373],[-0.297,0.514],[-0.232,0.532],[-0.212,0.250],
  [-0.181,0.245],[-0.097,0.038],[0.351,1.258],[0.330,1.290],[0.503,1.157],[0.658,1.180],[0.415,1.040],
  [0.342,0.965],[0.342,0.945],[0.427,0.953],[0.359,0.854],[0.337,0.832],[0.325,0.764],[0.337,0.729],
  [0.320,0.665],[0.389,0.496],[0.427,0.491],[0.405,0.423],[0.249,0.393],[0.232,0.370],[0.139,0.143],
  [0.173,1.089],[0.215,1.104],[0.275,1.112],[0.232,1.217],[0.333,1.187]
];
const gstGenes = [
  [-1.530,2.877],[-1.491,2.831],[-1.491,2.813],[-1.432,2.813],[-0.600,2.515],[-0.596,2.303],[-0.635,2.238],
  [-0.660,2.155],[-0.482,2.119],[-0.638,2.098],[-0.570,2.046],[-0.562,1.946],[-0.313,1.954],[-0.405,1.754],
  [-0.359,1.749],[-0.359,1.515],[-0.246,1.500],[-0.317,1.474],[-0.447,1.391],[-0.401,1.353],[-0.219,1.353],
  [0.486,1.857],[0.356,1.580],[0.339,1.334],[0.367,1.334],[1.771,2.077],[1.792,2.064],[1.720,1.921],[1.766,1.903],
  [-0.364,1.273],[-0.283,1.217],[-0.249,1.112],[-0.199,1.127],[-0.178,1.046],[-0.435,1.046],[-0.185,0.986],
  [-1.047,0.711],[-0.849,0.662],[-0.827,0.635],[-0.793,0.605],[-0.731,0.658],[-0.685,0.617],[-0.570,0.572],
  [-0.609,0.522],[-0.711,0.510],[-0.236,0.393],[-0.308,0.340],[0.291,1.225],[0.199,1.164]
];
const ugtGenes = [
  [-0.979,2.632],[-0.630,1.721],[0.667,1.659],[0.545,1.343],
  [-0.359,1.177],[-0.413,0.643],[-0.798,0.348],[0.300,1.282]
];

// labelled genes
const geneNames = [
  'LRIM7','AGAP011604-RA','CLIPA1','AGAP010531-RA','AGAP002198-RA','AGAP005888-RA','AGAP010047-RA',
  'AGAP007043-RA','AGAP012032-RA','LRIM8A','AGAP001236-RA','AGM1','AGAP000260-RC','AGAP004052-RA',
  'AGAP006371-RA','AGAP004880-RC','AGAP004880-RB','AGAP008704-RA','CPLCG5','AGAP001883-RA',
  'AGAP003944-RA','AGM1','AGM1','AGAP011356-RA','AGAP004437-RB','AGAP002350-RE','AGAP002350-RA',
  'AGAP000037-RA','AGAP011516-RA','AGAP004880-RA','AGAP005911-RA','AGAP001732-RA'
];
const geneLogFC = [
  -1.918,-1.209,-1.176,-1.168,-1.499,-1.577,-1.969,-1.427,-1.240,-1.280,-1.272,1.325,1.609,1.599,
  1.622,1.665,1.680,2.111,2.205,1.064,1.204,1.254,1.229,1.191,0.971,1.153,1.166,1.229,1.401,1.685,1.634,2.086
];
const geneLogP = [
  3.229,3.224,3.229,3.199,3.201,3.009,3.005,3.013,3.013,3.013,3.010,3.221,3.224,3.218,
  3.221,3.221,3.224,3.233,3.229,3.224,3.224,3.201,3.199,3.199,3.010,3.010,3.010,3.013,3.006,3.201,3.199,3.224
];
// where each label text sits (axis units), set by the repel layout of the original
const labelSpots = [
  [-2.339,3.268],[-1.574,3.327],[-0.796,3.327],[-0.702,3.206],[-1.689,3.135],[-2.542,3.037],[-2.364,2.914],
  [-1.346,2.911],[-0.749,3.028],[-0.504,2.911],[-1.059,2.787],[-0.228,3.324],[0.388,3.324],[0.912,3.282],
  [1.376,3.327],[1.812,3.285],[2.235,3.327],[2.598,3.285],[2.795,3.168],[0.220,3.188],
  [0.152,3.067],[1.457,3.133],[0.930,3.073],[0.299,2.946],[0.203,2.786],[1.204,2.786],[0.816,2.662],
  [1.812,2.911],[1.794,2.665],[2.217,3.028],[2.288,2.786],[2.598,2.911]
];

const FDR_CUT = -Math.log10(0.05);
const toPts = (arr) => arr.map(([x, y]) => ({ x, y }));
const bySig = (c) => (c.raw && c.raw.y > FDR_CUT ? '#000000' : '#FF0000');
const genePts = geneLogFC.map((x, i) => ({ x, y: geneLogP[i] }));

const panelBg = {
    id: 'panelBg',
    beforeDraw(chart) {
        const { ctx, chartArea: a } = chart;
        ctx.save();
        ctx.fillStyle = '#EBEBEB';
        ctx.fillRect(a.left, a.top, a.right - a.left, a.bottom - a.top);
        ctx.restore();
    },
};

const geneLabels = {
    id: 'geneLabels',
    afterDatasetsDraw(chart) {
        const { ctx, scales } = chart;
        ctx.save();
        ctx.font = '10.8px "Liberation Sans", Arial, sans-serif';
        ctx.textAlign = 'center';
        ctx.textBaseline = 'middle';
        geneNames.forEach((name, i) => {
            const px = scales.x.getPixelForValue(geneLogFC[i]);
            const py = scales.y.getPixelForValue(geneLogP[i]);
            const cx = scales.x.getPixelForValue(labelSpots[i][0]);
            const cy = scales.y.getPixelForValue(labelSpots[i][1]);
            const hw = ctx.measureText(name).width / 2 + 1;
            const hh = 6;
            const dx = px - cx;
            const dy = py - cy;
            const t = Math.min(dx === 0 ? Infinity : hw / Math.abs(dx), dy === 0 ? Infinity : hh / Math.abs(dy));
            if (t < 1) {
                ctx.strokeStyle = '#333333';
                ctx.lineWidth = 0.6;
                ctx.beginPath();
                ctx.moveTo(cx + dx * t, cy + dy * t);
                ctx.lineTo(px, py);
                ctx.stroke();
            }
            ctx.fillStyle = '#000000';
            ctx.fillText(name, cx, cy);
        });
        ctx.restore();
    },
};

const axisTitles = {
    id: 'axisTitles',
    afterDraw(chart) {
        const { ctx, chartArea: a } = chart;
        ctx.save();
        ctx.fillStyle = '#000000';
        ctx.font = '11px "Liberation Sans", Arial, sans-serif';
        ctx.textAlign = 'center';
        ctx.textBaseline = 'middle';
        ctx.fillText('logFC', (a.left + a.right) / 2, 813);
        ctx.translate(10, (a.top + a.bottom) / 2);
        ctx.rotate(-Math.PI / 2);
        ctx.fillText('-log10(adj.P.Value)', 0, 0);
        ctx.restore();
    },
};

const isMajorX = (c) => c.tick && Math.abs(c.tick.value % 2) < 1e-6;
const isMajorY = (c) => c.tick && Math.abs(c.tick.value - Math.round(c.tick.value)) < 1e-6;
const tickFont = { family: '"Liberation Sans", Arial, sans-serif', size: 10 };

new Chart(document.getElementById('volcano'), {
    type: 'scatter',
    data: {
        datasets: [
            { data: toPts(notSigDots), pointStyle: 'circle', pointRadius: 1.1, pointBackgroundColor: '#FF0000', pointBorderWidth: 0 },
            { data: toPts(notSigCore), pointStyle: 'triangle', pointRadius: 6.5, pointBackgroundColor: '#FF0000', pointBorderWidth: 0 },
            { data: toPts(sigDots), pointStyle: 'circle', pointRadius: 1.1, pointBackgroundColor: '#000000', pointBorderWidth: 0 },
            { data: genePts, pointStyle: 'circle', pointRadius: 1.1, pointBackgroundColor: '#000000', pointBorderWidth: 0 },
            { label: 'ABC', data: toPts(abcGenes), pointStyle: 'rect', pointRadius: 5, pointBackgroundColor: bySig, pointBorderColor: bySig, pointBorderWidth: 0.5 },
            { label: 'COE', data: toPts(coeGenes), pointStyle: 'circle', pointRadius: 3.5, pointBackgroundColor: bySig, pointBorderColor: bySig, pointBorderWidth: 0.5 },
            { label: 'CYP', data: toPts(cypGenes), pointStyle: 'triangle', pointRadius: 5, pointBackgroundColor: bySig, pointBorderColor: bySig, pointBorderWidth: 0.5 },
            { label: 'GST', data: toPts(gstGenes), pointStyle: 'star', pointRadius: 5.5, pointBorderColor: bySig, pointBorderWidth: 1 },
            { label: 'UGT', data: toPts(ugtGenes), pointStyle: 'cross', pointRadius: 6, pointBorderColor: bySig, pointBorderWidth: 1 },
        ],
    },
    options: {
        responsive: false,
        animation: false,
        events: [],
        layout: { padding: { left: 0, right: 88, top: 5, bottom: 0 } },
        scales: {
            x: {
                type: 'linear',
                min: -4.331,
                max: 3.12,
                afterFit: (s) => { s.height = 34; },
                border: { display: false },
                grid: {
                    color: '#FFFFFF',
                    lineWidth: (c) => (isMajorX(c) ? 1.4 : 0.7),
                    tickLength: 3,
                    tickWidth: 1,
                    tickColor: (c) => (isMajorX(c) ? '#333333' : 'rgba(0,0,0,0)'),
                },
                ticks: {
                    stepSize: 1,
                    includeBounds: false,
                    autoSkip: false,
                    maxRotation: 0,
                    padding: 2,
                    color: '#4D4D4D',
                    font: tickFont,
                    callback: (v) => (Math.abs(v % 2) < 1e-6 ? String(v) : ''),
                },
            },
            y: {
                type: 'linear',
                min: -0.162,
                max: 3.395,
                afterFit: (s) => { s.width = 28; },
                border: { display: false },
                grid: {
                    color: '#FFFFFF',
                    lineWidth: (c) => (isMajorY(c) ? 1.4 : 0.7),
                    tickLength: 3,
                    tickWidth: 1,
                    tickColor: (c) => (isMajorY(c) ? '#333333' : 'rgba(0,0,0,0)'),
                },
                ticks: {
                    stepSize: 0.5,
                    includeBounds: false,
                    autoSkip: false,
                    padding: 2,
                    color: '#4D4D4D',
                    font: tickFont,
                    callback: (v) => (Math.abs(v - Math.round(v)) < 1e-6 ? String(Math.round(v)) : ''),
                },
            },
        },
        plugins: {
            legend: { display: false },
            tooltip: { enabled: false },
        },
    },
    plugins: [panelBg, geneLabels, axisTitles],
});
</script>
</body>
</html>
